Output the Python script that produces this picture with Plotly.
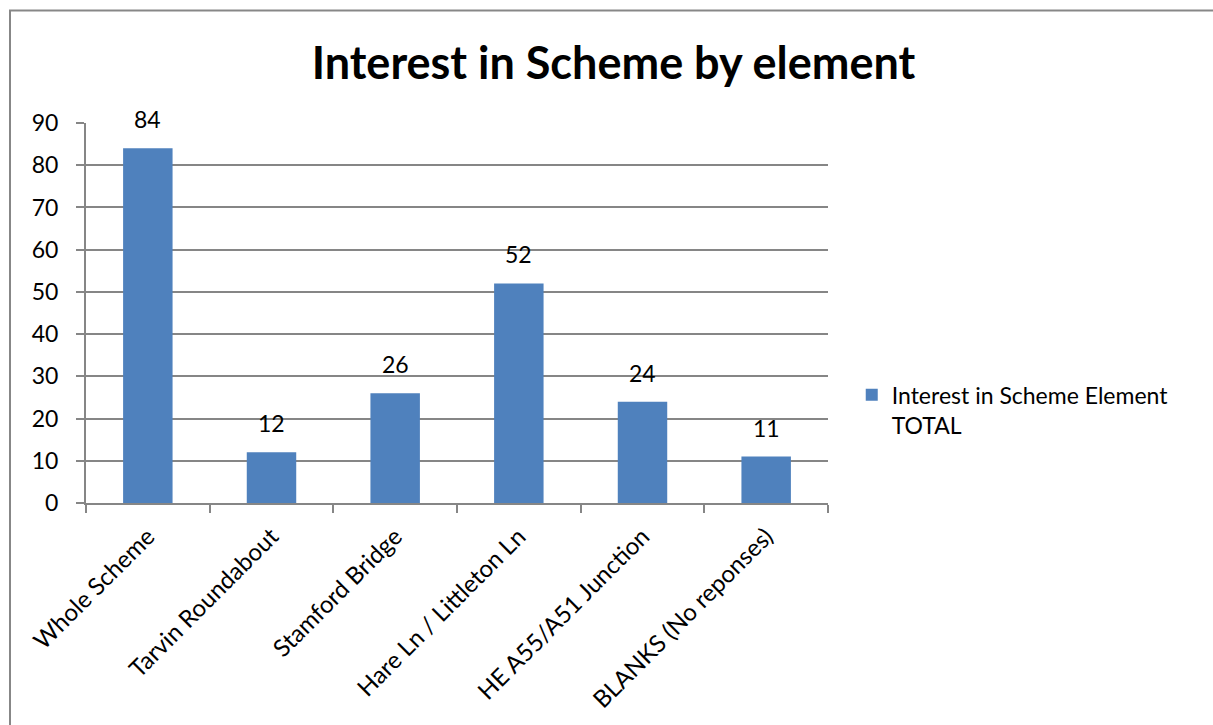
import plotly.graph_objects as go

categories = [
    "Whole Scheme",
    "Tarvin Roundabout",
    "Stamford Bridge",
    "Hare Ln / Littleton Ln",
    "HE A55/A51 Junction",
    "BLANKS (No reponses)",
]
totals = [84, 12, 26, 52, 24, 11]
series_name = "Interest in Scheme Element<br>TOTAL"

BAR = "#4F81BD"
GRID = "#868686"
FONT = "Lato, 'Open Sans', sans-serif"
FS = 23

fig = go.Figure(
    go.Bar(
        x=categories,
        y=totals,
        name=series_name,
        marker=dict(color=BAR, line=dict(width=0)),
        width=0.4,
    )
)

# value labels above each bar
for c, v in zip(categories, totals):
    fig.add_annotation(
        x=c,
        y=v,
        text=str(v),
        showarrow=False,
        yanchor="bottom",
        yshift=13,
        font=dict(size=FS, family=FONT, color="#000000"),
    )

fig.update_layout(
    width=1213,
    height=725,
    margin=dict(l=86, r=385, t=123, b=220),
    paper_bgcolor="white",
    plot_bgcolor="white",
    font=dict(family=FONT, size=FS, color="#000000"),
    title=dict(
        text="<b>Interest in Scheme by element</b>",
        x=0.5058,
        xanchor="center",
        xref="container",
        y=0.913,
        yanchor="middle",
        font=dict(size=45, family=FONT, color="#000000"),
    ),
    showlegend=True,
    legend=dict(
        x=1.032,
        xanchor="left",
        y=0.341,
        yanchor="top",
        valign="top",
        font=dict(size=FS, family=FONT),
        itemwidth=30,
        bgcolor="rgba(0,0,0,0)",
    ),
    xaxis=dict(
        type="category",
        tickson="boundaries",
        ticks="outside",
        ticklen=8,
        tickcolor=GRID,
        tickwidth=2,
        showline=True,
        linecolor=GRID,
        linewidth=2,
        showgrid=False,
        tickangle=-45,
        ticklabelstandoff=8,
        tickfont=dict(size=24, family=FONT),
    ),
    yaxis=dict(
        range=[0, 90],
        dtick=10,
        ticks="outside",
        ticklen=8,
        tickcolor=GRID,
        tickwidth=2,
        showline=True,
        linecolor=GRID,
        linewidth=2,
        showgrid=True,
        gridcolor=GRID,
        gridwidth=2,
        zeroline=False,
        ticklabelstandoff=13,
        tickfont=dict(size=FS, family=FONT),
    ),
)

# chart frame
fig.add_shape(
    type="rect",
    xref="paper",
    yref="paper",
    x0=(10 - 86) / 742,
    x1=(1230 - 86) / 742,
    y0=(505 - 740) / 382,
    y1=(505 - 10) / 382,
    line=dict(color="#878787", width=2),
    fillcolor="rgba(0,0,0,0)",
    layer="below",
)

fig.write_html("out.html")
